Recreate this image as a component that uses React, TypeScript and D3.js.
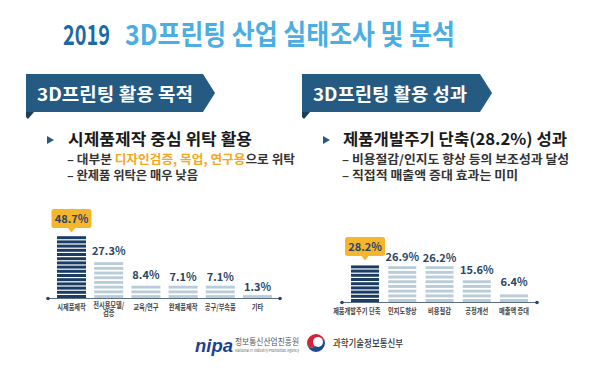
import * as d3 from 'd3';

// 활용 목적 (left chart)
const purposeLabels = ['시제품제작', '전시용모델/\n검증', '교육/연구', '완제품제작', '공구/부속품', '기타'];
const purposeValues = [48.7, 27.3, 8.4, 7.1, 7.1, 1.3];

// 활용 성과 (right chart)
const outcomeLabels = ['제품개발주기 단축', '인지도향상', '비용절감', '공정개선', '매출액 증대'];
const outcomeValues = [28.2, 26.9, 26.2, 15.6, 6.4];

const FONT = '"Noto Sans CJK KR", "Noto Sans", sans-serif';
const NAVY = '#1b3d63';
const LIGHT = '#b9ccda';
const BANNER = '#255a82';
const YELLOW = '#f6b62c';
const LABEL_SIZE = 8;
const SQUEEZE = 0.78; // the original uses a condensed face

// rough width of a label at full width: hangul is one em, other glyphs narrow
function labelWidth(s: string, size: number) {
  let w = 0;
  for (const ch of s) w += /[\uac00-\ud7a3]/.test(ch) ? size : size * 0.5;
  return w;
}

interface BarChartProps {
  labels: string[];
  values: number[];
  x0: number;
  x1: number;
  axisX0: number;
  axisX1: number;
  baseY: number;
  maxH: number;
  padInner: number;
}

function StripedBars({ labels, values, x0, x1, axisX0, axisX1, baseY, maxH, padInner }: BarChartProps) {
  const x = d3.scaleBand<string>()
    .domain(labels)
    .range([x0, x1])
    .paddingInner(padInner)
    .paddingOuter(padInner / 2);

  // infographic bars are not strictly proportional; a soft power scale matches better
  const h = d3.scalePow().exponent(0.8)
    .domain([0, d3.max(values) as number])
    .range([0, maxH]);

  const maxIdx = d3.maxIndex(values);

  return (
    <g>
      {values.map((v, i) => {
        const bx = x(labels[i]) as number;
        const bw = x.bandwidth();
        const bh = h(v);
        const top = baseY - bh;
        const hi = i === maxIdx;
        const period = hi ? 4.2 : 4.7;
        const fillH = hi ? 3 : 2.9;
        const stripes = d3.range(baseY - fillH, top - 0.5, -period);
        const cx = bx + bw / 2;
        const lines = labels[i].split('\n');
        const w = d3.max(lines, l => labelWidth(l, LABEL_SIZE)) as number * SQUEEZE;
        // long labels slide left so they stop short of the next bar
        const lx = Math.min(cx, bx + x.step() - 5 - w / 2);
        const ly = baseY + (lines.length > 1 ? 10 : 12);
        return (
          <g key={labels[i]}>
            {stripes.map((sy, k) => (
              <rect key={k} x={bx} y={Math.max(sy, top)} width={bw}
                height={Math.min(fillH, sy + fillH - top)} fill={hi ? NAVY : LIGHT} />
            ))}
            {hi ? (
              <g>
                <rect x={cx - 20} y={top - 27} width={40} height={19} rx={2.5} fill={YELLOW} />
                <path d={`M${cx - 4},${top - 8.5} L${cx},${top - 3.5} L${cx + 4},${top - 8.5} Z`} fill={YELLOW} />
                <text x={cx} y={top - 13} textAnchor="middle" fontSize={11} fontWeight={700}
                  fill="#2a4566" fontFamily={FONT}>{v.toFixed(1)}%</text>
              </g>
            ) : (
              <text x={cx} y={top - 4} textAnchor="middle" fontSize={11} fontWeight={700}
                fill="#2a4566" fontFamily={FONT}>{v.toFixed(1)}%</text>
            )}
            <text transform={`translate(${lx},${ly}) scale(${SQUEEZE},1)`} textAnchor="middle"
              fontSize={LABEL_SIZE} fontWeight={700} fill="#444" fontFamily={FONT}>
              {lines.map((line, li) => (
                <tspan key={li} x={0} y={li * 7.5}>{line}</tspan>
              ))}
            </text>
          </g>
        );
      })}
      <line x1={axisX0} x2={axisX1} y1={baseY + 0.5} y2={baseY + 0.5} stroke="#5a6f86" strokeWidth={1.2} />
      <circle cx={axisX0} cy={baseY + 0.5} r={1.8} fill="#2a4566" />
      <circle cx={axisX1} cy={baseY + 0.5} r={1.8} fill="#2a4566" />
    </g>
  );
}

function Banner({ x, w, label, textLen }: { x: number; w: number; label: string; textLen: number }) {
  const top = 74;
  const bot = 112;
  const mid = (top + bot) / 2;
  return (
    <g>
      <path d={`M${x},${top} L${x + w - 12},${top} L${x + w},${mid} L${x + w - 12},${bot} L${x},${bot} Z`} fill={BANNER} />
      <path d={`M${x},${bot} L${x + 8},${bot} L${x + 2},${bot + 7} L${x},${bot + 5} Z`} fill="#17405f" />
      <text x={x + 11} y={101} fontSize={18} fontWeight={700} fill="#fff" fontFamily={FONT}
        textLength={textLen} lengthAdjust="spacingAndGlyphs">{label}</text>
    </g>
  );
}

function Bullet({ x, y }: { x: number; y: number }) {
  return <path d={`M${x},${y - 4} L${x + 7},${y} L${x},${y + 4} Z`} fill={BANNER} />;
}

export default function App() {
  return (
    <svg width={600} height={368} style={{ position: 'absolute', left: 0, top: 0, background: '#fff' }}>
      <rect width={600} height={368} fill="#fff" />

      {/* title */}
      <text x={63} y={45} fontSize={28} fontWeight={700} fontFamily={FONT} fill="#1b6aa5"
        textLength={47} lengthAdjust="spacingAndGlyphs">2019</text>
      <text x={125} y={45} fontSize={28} fontWeight={700} fontFamily={FONT} fill="#4aaee3"
        textLength={330} lengthAdjust="spacingAndGlyphs">3D프린팅 산업 실태조사 및 분석</text>

      {/* left panel */}
      <Banner x={26} w={189} label="3D프린팅 활용 목적" textLen={156} />
      <Bullet x={47} y={140} />
      <text x={68} y={145} fontSize={16} fontWeight={700} fill="#1a1a1a" fontFamily={FONT}
        textLength={184} lengthAdjust="spacingAndGlyphs">시제품제작 중심 위탁 활용</text>
      <text x={67} y={164} fontSize={12} fontWeight={700} fill="#333" fontFamily={FONT}
        textLength={228} lengthAdjust="spacingAndGlyphs">
        <tspan>– 대부분 </tspan>
        <tspan fill="#f5a81c">디자인검증, 목업, 연구용</tspan>
        <tspan>으로 위탁</tspan>
      </text>
      <text x={67} y={180} fontSize={12} fontWeight={700} fill="#333" fontFamily={FONT}
        textLength={131} lengthAdjust="spacingAndGlyphs">– 완제품 위탁은 매우 낮음</text>

      {/* right panel */}
      <Banner x={302} w={190} label="3D프린팅 활용 성과" textLen={154} />
      <Bullet x={323} y={140} />
      <text x={343} y={145} fontSize={16} fontWeight={700} fill="#1a1a1a" fontFamily={FONT}
        textLength={224} lengthAdjust="spacingAndGlyphs">제품개발주기 단축(28.2%) 성과</text>
      <text x={342} y={164} fontSize={12} fontWeight={700} fill="#333" fontFamily={FONT}
        textLength={227} lengthAdjust="spacingAndGlyphs">– 비용절감/인지도 향상 등의 보조성과 달성</text>
      <text x={342} y={180} fontSize={12} fontWeight={700} fill="#333" fontFamily={FONT}
        textLength={176} lengthAdjust="spacingAndGlyphs">– 직접적 매출액 증대 효과는 미미</text>

      <StripedBars labels={purposeLabels} values={purposeValues} x0={52.9} x1={276.1}
        axisX0={48} axisX1={280} baseY={298} maxH={62} padInner={0.22} />
      <StripedBars labels={outcomeLabels} values={outcomeValues} x0={346.4} x1={532.6}
        axisX0={342} axisX1={537} baseY={302} maxH={38} padInner={0.248} />

      {/* footer logos */}
      <text x={195} y={352} fontSize={18} fontWeight={900} fontStyle="italic" fill="#1d3f94"
        fontFamily="'Liberation Sans', sans-serif" textLength={38} lengthAdjust="spacingAndGlyphs">nipa</text>
      <text x={235} y={345} fontSize={9} fill="#555" fontFamily={FONT}
        textLength={64} lengthAdjust="spacingAndGlyphs">정보통신산업진흥원</text>
      <text x={235} y={352} fontSize={4} fill="#666" fontFamily={FONT}
        textLength={64} lengthAdjust="spacingAndGlyphs">National IT Industry Promotion Agency</text>
      <g transform="translate(316,343)">
        <path d="M-9,0 A9,9 0 0 1 9,0 A4.5,4.5 0 0 0 0,0 A4.5,4.5 0 0 1 -9,0 Z" fill="#d3233a" />
        <path d="M-9,0 A4.5,4.5 0 0 0 0,0 A4.5,4.5 0 0 1 9,0 A9,9 0 0 1 -9,0 Z" fill="#1d4a8c" />
        <circle cx={2} cy={-1} r={5} fill="#fff" />
      </g>
      <text x={333} y={347} fontSize={10} fontWeight={500} fill="#333" fontFamily={FONT}
        textLength={70} lengthAdjust="spacingAndGlyphs">과학기술정보통신부</text>
    </svg>
  );
}
